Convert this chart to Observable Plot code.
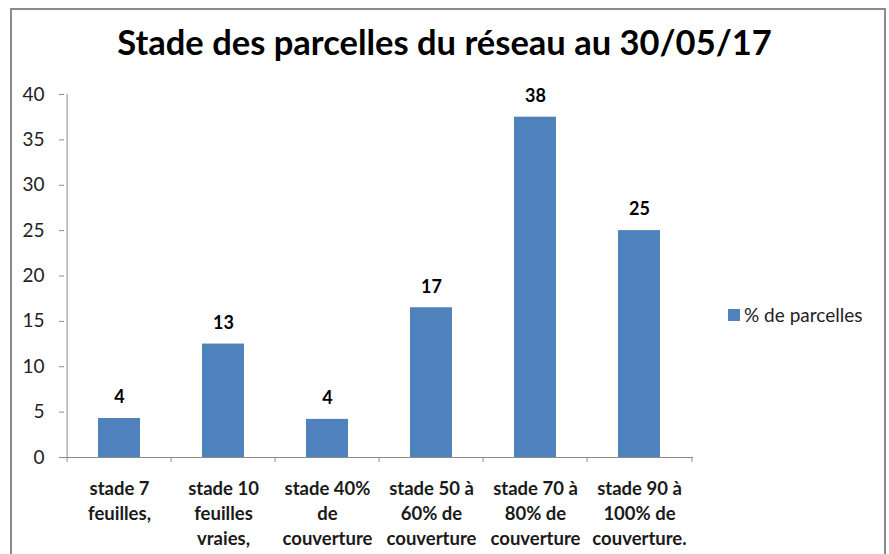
<!DOCTYPE html>
<html>
<head>
<meta charset="utf-8">
<script src="https://cdn.jsdelivr.net/npm/d3@7"></script>
<script src="https://cdn.jsdelivr.net/npm/@observablehq/plot@0.6"></script>
<style>
  html, body { margin: 0; padding: 0; background: #fff; overflow: hidden; }
  #wrap { position: relative; width: 889px; height: 554px; font-family: Lato, "Open Sans", sans-serif; }
  #border { position: absolute; left: 10px; top: 8px; width: 876px; height: 620px; box-sizing: border-box; border: 2px solid #8a8a8a; }
  #title { position: absolute; left: 0; top: 22px; width: 889px; text-align: center; font-size: 34.5px; font-weight: bold; line-height: 40px; color: #000; }
  #chart { position: absolute; left: 0; top: 80px; }
  #legend { position: absolute; left: 728px; top: 305px; display: flex; align-items: center; font-size: 19px; line-height: 20px; color: #222; }
  #legend .sw { width: 12px; height: 12px; margin-right: 4px; }
</style>
</head>
<body>
<div id="wrap">
  <div id="border"></div>
  <div id="title"></div>
  <div id="chart"></div>
  <div id="legend"></div>
</div>
<script>
const title = "Stade des parcelles du réseau au 30/05/17";
const seriesName = "% de parcelles";
const categories = [
  "stade 7 feuilles,",
  "stade 10 feuilles vraies,",
  "stade 40% de couverture",
  "stade 50 à 60% de couverture",
  "stade 70 à 80% de couverture",
  "stade 90 à 100% de couverture."
];
const tickLabels = [
  "stade 7\nfeuilles,",
  "stade 10\nfeuilles\nvraies,",
  "stade 40%\nde\ncouverture",
  "stade 50 à\n60% de\ncouverture",
  "stade 70 à\n80% de\ncouverture",
  "stade 90 à\n100% de\ncouverture."
];
const values = [4.3, 12.5, 4.2, 16.5, 37.5, 25];
const valueLabels = ["4", "13", "4", "17", "38", "25"];
const yTicks = [0, 5, 10, 15, 20, 25, 30, 35, 40];
const barColor = "#4f81bd";

const data = categories.map((c, i) => ({cat: c, value: values[i], label: valueLabels[i], tick: tickLabels[i]}));

const W = 889, H = 474;
const mL = 64, mR = 196, mT = 14, mB = 97;
const step = (W - mL - mR) / categories.length;

document.getElementById("title").textContent = title;
const lg = document.getElementById("legend");
lg.innerHTML = `<div class="sw" style="background:${barColor}"></div><span></span>`;
lg.querySelector("span").textContent = seriesName;

const chart = Plot.plot({
  width: W,
  height: H,
  marginLeft: mL,
  marginRight: mR,
  marginTop: mT,
  marginBottom: mB,
  style: {fontFamily: "Lato, 'Open Sans', sans-serif", fontSize: "17px", color: "#222", background: "transparent", overflow: "visible"},
  x: {domain: categories, paddingInner: 0.6, paddingOuter: 0.3, axis: null},
  y: {domain: [0, 40], ticks: yTicks, label: null, axis: null},
  marks: [
    Plot.barY(data, {x: "cat", y: "value", fill: barColor}),
    Plot.ruleY([0], {stroke: "#8a8a8a"}),
    Plot.ruleX([categories[0]], {x: d => d, dx: -step / 2, stroke: "#8a8a8a"}),
    Plot.axisY(yTicks, {tickSize: 5, tickFormat: () => "", stroke: "#8a8a8a", label: null}),
    Plot.text(yTicks, {y: d => d, text: d => String(d), frameAnchor: "left", dx: -20, textAnchor: "end", fontSize: 19, fill: "#222"}),
    Plot.axisX(categories, {tickSize: 5, tickFormat: () => "", dx: -step / 2, stroke: "#8a8a8a", label: null}),
    Plot.axisX([categories[categories.length - 1]], {tickSize: 5, tickFormat: () => "", dx: step / 2, stroke: "#8a8a8a", label: null}),
    Plot.text(data, {x: "cat", text: "tick", frameAnchor: "bottom", dy: 20, lineAnchor: "top", lineHeight: 1.35, fontSize: 18.5, fontWeight: "bold", fill: "#1a1a1a"}),
    Plot.text(data, {x: "cat", y: "value", text: "label", dy: -21, fontSize: 18, fontWeight: "bold", fill: "#000"})
  ]
});
document.getElementById("chart").appendChild(chart);
</script>
</body>
</html>
